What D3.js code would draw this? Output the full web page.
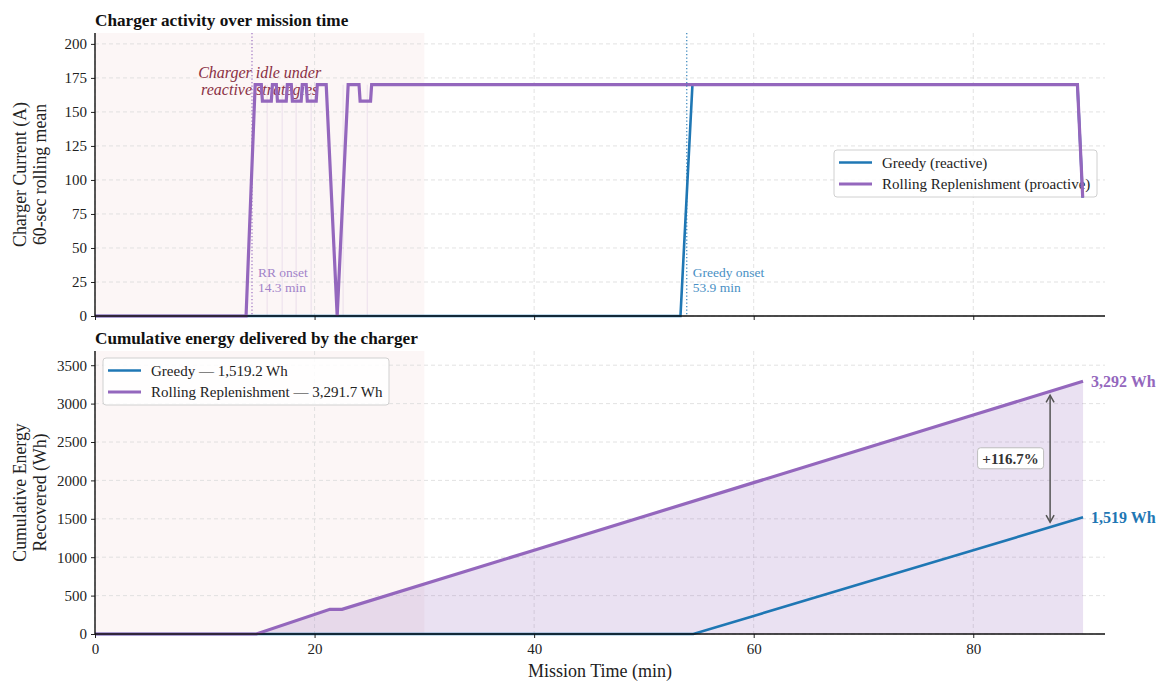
<!DOCTYPE html>
<html>
<head>
<meta charset="utf-8">
<script src="https://cdn.jsdelivr.net/npm/d3@7"></script>
<style>
  html, body { margin: 0; padding: 0; background: #fff; }
  svg { display: block; font-family: "Liberation Serif", "Times New Roman", serif; }
</style>
</head>
<body>
<svg id="chart" width="1157" height="681"></svg>
<script>
// ---- Data -------------------------------------------------------------
// 60-second rolling mean of charger current (A)
const rrCurrentT = [0, 13.76, 14.59, 15.15, 15.25, 16.06, 16.16, 16.52, 16.62, 17.42, 17.52, 17.88, 17.98, 18.78, 18.88, 19.24, 19.34, 20.15, 20.25, 21.06, 22.06, 23.06, 24.05, 24.15, 25.1, 25.2, 89.49, 89.97];
const rrCurrentA = [0, 0, 170, 170, 158, 158, 170, 170, 158, 158, 170, 170, 158, 158, 170, 170, 158, 158, 170, 170, 0, 170, 170, 158, 158, 170, 170, 87];
const greedyCurrentT = [0, 53.33, 54.42, 89.49, 89.97];
const greedyCurrentA = [0, 0, 170, 170, 87];

// Cumulative energy recovered (Wh)
const rrEnergyT = [0, 14.7, 21.4, 22.5, 40, 60, 80, 90];
const rrEnergyWh = [0, 0, 321, 321, 1091, 1971, 2851, 3291.7];
const greedyEnergyT = [0, 54.5, 60, 70, 80, 90];
const greedyEnergyWh = [0, 0, 235, 663, 1091, 1519.2];

// Individual RR charging events and onset markers (min)
const chargeEventT = [15.68, 17.05, 18.32, 19.69, 22.6, 24.8];
const rrOnset = 14.3;
const greedyOnset = 53.9;
const idleWindow = [0, 30];

const seriesNames = ["Greedy", "Rolling Replenishment"];
const seriesTags = ["(reactive)", "(proactive)"];
const totalsWh = [1519.2, 3291.7];

const xTicks = [0, 20, 40, 60, 80];
const currentTicks = [0, 25, 50, 75, 100, 125, 150, 175, 200];
const energyTicks = [0, 500, 1000, 1500, 2000, 2500, 3000, 3500];

// ---- Styling ----------------------------------------------------------
const BLUE = "#1f77b4", PURPLE = "#9467bd";
const svg = d3.select("#chart");
const left = 95, right = 1105;
const topPanel = { y0: 33, y1: 316 };
const botPanel = { y0: 351, y1: 634 };

const x = d3.scaleLinear().domain([0, 92]).range([left, right]);
const yC = d3.scaleLinear().domain([0, 208]).range([topPanel.y1, topPanel.y0]);
const yE = d3.scaleLinear().domain([0, 3685]).range([botPanel.y1, botPanel.y0]);

const zip = (ts, vs) => ts.map((t, i) => [t, vs[i]]);

function panelBase(g, y, panel, yTicks) {
  // idle window shading
  g.append("rect")
    .attr("x", x(idleWindow[0])).attr("width", x(idleWindow[1]) - x(idleWindow[0]))
    .attr("y", panel.y0).attr("height", panel.y1 - panel.y0)
    .attr("fill", "#fcf6f6");
  // grid
  const grid = g.append("g").attr("stroke", "#dadada").attr("stroke-width", 0.8)
    .attr("stroke-dasharray", "4,3");
  grid.selectAll("line.h").data(yTicks).join("line")
    .attr("x1", left).attr("x2", right)
    .attr("y1", d => y(d)).attr("y2", d => y(d));
  grid.selectAll("line.v").data(xTicks).join("line")
    .attr("y1", panel.y0).attr("y2", panel.y1)
    .attr("x1", d => x(d)).attr("x2", d => x(d));
}

function panelAxes(g, y, panel, yTicks, showXLabels) {
  const ya = g.append("g").attr("transform", `translate(${left},0)`)
    .call(d3.axisLeft(y).tickValues(yTicks).tickSize(4).tickPadding(4).tickFormat(d3.format("d")));
  const xa = g.append("g").attr("transform", `translate(0,${panel.y1})`)
    .call(d3.axisBottom(x).tickValues(xTicks).tickSize(4).tickPadding(5)
      .tickFormat(showXLabels ? d3.format("d") : () => ""));
  [ya, xa].forEach(a => {
    a.select(".domain").remove();
    a.selectAll("line").attr("stroke", "#222").attr("stroke-width", 1);
    a.selectAll("text").attr("font-family", "Liberation Serif, serif")
      .attr("font-size", 15).attr("fill", "#222");
  });
  g.append("line").attr("x1", left).attr("x2", left)
    .attr("y1", panel.y0).attr("y2", panel.y1).attr("stroke", "#111").attr("stroke-width", 1.4);
  g.append("line").attr("x1", left).attr("x2", right)
    .attr("y1", panel.y1).attr("y2", panel.y1).attr("stroke", "#111").attr("stroke-width", 1.4);
}

function legend(g, x0, y0, w, labels) {
  g.append("rect").attr("x", x0).attr("y", y0).attr("width", w).attr("height", 47)
    .attr("rx", 3).attr("fill", "#fff").attr("fill-opacity", 0.85)
    .attr("stroke", "#d0d0d0").attr("stroke-width", 1);
  labels.forEach((lab, i) => {
    const cy = y0 + 12.5 + i * 21.5;
    g.append("line").attr("x1", x0 + 5).attr("x2", x0 + 38).attr("y1", cy).attr("y2", cy)
      .attr("stroke", i === 0 ? BLUE : PURPLE).attr("stroke-width", i === 0 ? 2.6 : 3.2);
    g.append("text").attr("x", x0 + 48).attr("y", cy).attr("dy", "0.35em")
      .attr("font-size", 15).attr("fill", "#222").text(lab);
  });
}

// ---- Top panel: charger current ---------------------------------------
const gTop = svg.append("g");
panelBase(gTop, yC, topPanel, currentTicks);
legend(gTop, 834, 150, 263, seriesNames.map((n, i) => `${n} ${seriesTags[i]}`));

gTop.append("g").selectAll("line").data(chargeEventT).join("line")
  .attr("x1", d => x(d)).attr("x2", d => x(d))
  .attr("y1", yC(0)).attr("y2", yC(170))
  .attr("stroke", PURPLE).attr("stroke-opacity", 0.16).attr("stroke-width", 1);

gTop.append("text").attr("x", x(15)).attr("text-anchor", "middle")
  .attr("font-size", 16).attr("font-style", "italic").attr("fill", "#8a3044")
  .selectAll("tspan").data(["Charger idle under", "reactive strategies"]).join("tspan")
  .attr("x", x(15)).attr("y", (d, i) => 78 + i * 17).text(d => d);

const lineC = d3.line().x(d => x(d[0])).y(d => yC(d[1]));
gTop.append("path").datum(zip(greedyCurrentT, greedyCurrentA)).attr("d", lineC)
  .attr("fill", "none").attr("stroke", BLUE).attr("stroke-width", 2.6);
gTop.append("path").datum(zip(rrCurrentT, rrCurrentA)).attr("d", lineC)
  .attr("fill", "none").attr("stroke", PURPLE).attr("stroke-width", 3.2)
  .attr("stroke-linejoin", "miter");

[[rrOnset, PURPLE, "#a283c9", "RR onset"], [greedyOnset, BLUE, "#4a90c4", "Greedy onset"]]
  .forEach(([t, c, tc, name]) => {
    gTop.append("line").attr("x1", x(t)).attr("x2", x(t))
      .attr("y1", topPanel.y0).attr("y2", topPanel.y1)
      .attr("stroke", c).attr("stroke-width", 1.3).attr("stroke-dasharray", "1.3,2.2")
      .attr("stroke-opacity", 0.85);
    gTop.append("text").attr("font-size", 13.5).attr("fill", tc)
      .selectAll("tspan").data([name, `${t.toFixed(1)} min`]).join("tspan")
      .attr("x", x(t) + 6).attr("y", (d, i) => 277 + i * 15).text(d => d);
  });

panelAxes(gTop, yC, topPanel, currentTicks, false);

svg.append("text").attr("x", left).attr("y", 26).attr("font-size", 17.2)
  .attr("font-weight", "bold").attr("fill", "#111").text("Charger activity over mission time");
svg.append("text").attr("transform", `translate(0,${(topPanel.y0 + topPanel.y1) / 2}) rotate(-90)`)
  .attr("text-anchor", "middle").attr("font-size", 17.8).attr("fill", "#222")
  .selectAll("tspan").data(["Charger Current (A)", "60-sec rolling mean"]).join("tspan")
  .attr("x", 0).attr("y", (d, i) => 26 + i * 19.5).text(d => d);

// ---- Bottom panel: cumulative energy -----------------------------------
const gBot = svg.append("g");
panelBase(gBot, yE, botPanel, energyTicks);

const rrE = zip(rrEnergyT, rrEnergyWh);
const grE = zip(greedyEnergyT, greedyEnergyWh);
gBot.append("path").datum(rrE)
  .attr("d", d3.area().x(d => x(d[0])).y0(yE(0)).y1(d => yE(d[1])))
  .attr("fill", PURPLE).attr("fill-opacity", 0.2);

const lineE = d3.line().x(d => x(d[0])).y(d => yE(d[1]));
gBot.append("path").datum(grE).attr("d", lineE)
  .attr("fill", "none").attr("stroke", BLUE).attr("stroke-width", 2.6);
gBot.append("path").datum(rrE).attr("d", lineE)
  .attr("fill", "none").attr("stroke", PURPLE).attr("stroke-width", 3.2);

// gap annotation
const interp = (ts, vs, t) => {
  const i = d3.bisectRight(ts, t) - 1;
  const f = (t - ts[i]) / (ts[i + 1] - ts[i]);
  return vs[i] + f * (vs[i + 1] - vs[i]);
};
const tArrow = 87;
const yHi = yE(interp(rrEnergyT, rrEnergyWh, tArrow)) + 4;
const yLo = yE(interp(greedyEnergyT, greedyEnergyWh, tArrow)) - 5;
const ax = x(tArrow);
const arrow = gBot.append("g").attr("stroke", "#555").attr("stroke-width", 1.5).attr("fill", "none");
arrow.append("line").attr("x1", ax).attr("x2", ax).attr("y1", yHi).attr("y2", yLo);
arrow.append("path").attr("d", `M${ax - 4},${yHi + 7}L${ax},${yHi}L${ax + 4},${yHi + 7}`);
arrow.append("path").attr("d", `M${ax - 4},${yLo - 7}L${ax},${yLo}L${ax + 4},${yLo - 7}`);

const gain = (totalsWh[1] - totalsWh[0]) / totalsWh[0] * 100;
const midY = (yHi + yLo) / 2;
const lx = x(83.4);
gBot.append("rect").attr("x", lx - 33).attr("y", midY - 11).attr("width", 66).attr("height", 21)
  .attr("rx", 3).attr("fill", "#fff").attr("stroke", "#bdbdbd").attr("stroke-width", 1);
gBot.append("text").attr("x", lx).attr("y", midY).attr("dy", "0.35em")
  .attr("text-anchor", "middle").attr("font-size", 15).attr("font-weight", "bold")
  .attr("fill", "#333").text(`+${gain.toFixed(1)}%`);

// end-of-mission totals
const fmtWh = d3.format(",.0f");
[[totalsWh[1], PURPLE], [totalsWh[0], BLUE]].forEach(([v, c]) => {
  gBot.append("text").attr("x", x(90) + 8).attr("y", yE(v)).attr("dy", "0.35em")
    .attr("font-size", 16).attr("font-weight", "bold").attr("fill", c)
    .text(`${fmtWh(v)} Wh`);
});

panelAxes(gBot, yE, botPanel, energyTicks, true);
legend(gBot, 103, 358, 286, seriesNames.map((n, i) => `${n} — ${d3.format(",.1f")(totalsWh[i])} Wh`));

svg.append("text").attr("x", left).attr("y", 344).attr("font-size", 17.2)
  .attr("font-weight", "bold").attr("fill", "#111").text("Cumulative energy delivered by the charger");
svg.append("text").attr("transform", `translate(0,${(botPanel.y0 + botPanel.y1) / 2}) rotate(-90)`)
  .attr("text-anchor", "middle").attr("font-size", 17.8).attr("fill", "#222")
  .selectAll("tspan").data(["Cumulative Energy", "Recovered (Wh)"]).join("tspan")
  .attr("x", 0).attr("y", (d, i) => 26 + i * 19.5).text(d => d);
svg.append("text").attr("x", (left + right) / 2).attr("y", 677).attr("text-anchor", "middle")
  .attr("font-size", 18).attr("fill", "#222").text("Mission Time (min)");
</script>
</body>
</html>
